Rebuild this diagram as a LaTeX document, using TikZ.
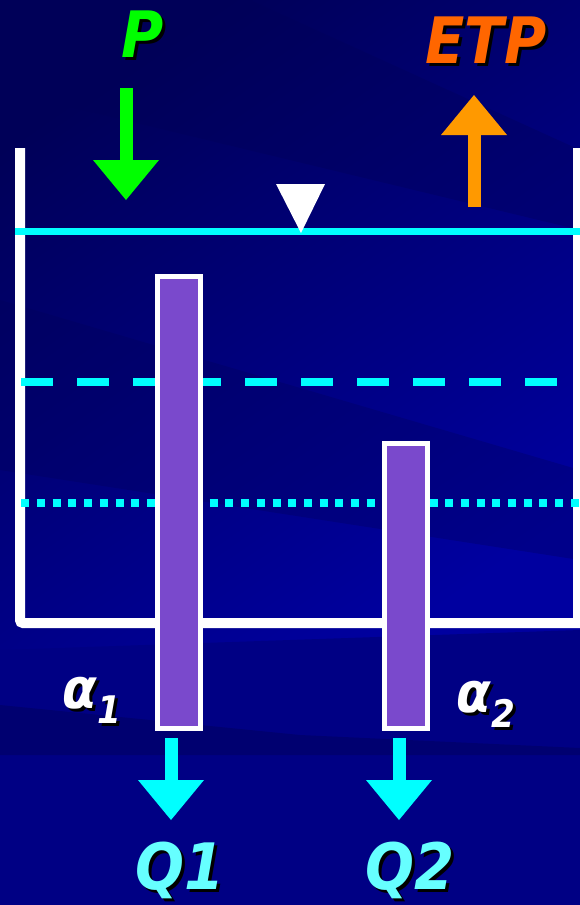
\documentclass[tikz,border=0pt]{standalone}
\usepackage{fontspec}
\setsansfont[FakeStretch=0.9]{DejaVu Sans}
\usetikzlibrary{positioning,arrows.meta}
\definecolor{tkNavy}{RGB}{0,0,132}
\definecolor{tkDeep}{RGB}{0,0,88}
\definecolor{tkBright}{RGB}{0,0,160}
\definecolor{tkCyan}{RGB}{0,255,255}
\definecolor{tkGreen}{RGB}{0,255,0}
\definecolor{tkOrange}{RGB}{255,153,0}
\definecolor{tkRed}{RGB}{255,102,0}
\definecolor{tkQ}{RGB}{102,255,255}
\definecolor{tkPurple}{RGB}{122,73,204}
\newcommand\castshadow[2]{\rlap{\kern3pt\raisebox{-3pt}{\color{black}#2}}{\color{#1}#2}}
\tikzset{
  bigtext/.style={anchor=base, inner sep=0pt, font=\fontsize{64}{64}\selectfont\sffamily\bfseries\itshape},
  greektext/.style={anchor=base, inner sep=0pt, font=\fontsize{56}{56}\selectfont\sffamily\bfseries\itshape},
  wall/.style={white, line width=10pt, rounded corners=3pt},
  bar/.style={draw=white, line width=5pt, fill=tkPurple, minimum width=43pt, inner sep=0pt},
  blockarrow/.style={line width=13pt, -{Triangle[width=66pt,length=40pt,line width=0pt]}},
  level/.style={tkCyan, line width=8pt}
}

\begin{document}
\begin{tikzpicture}[x=1pt, y=-1pt]
  \useasboundingbox (0,0) rectangle (580,905);

  % Background
  \shade[top color=tkDeep, bottom color=tkBright, shading angle=35] (0,0) rectangle (580,660);
  \fill[tkNavy] (0,650) -- (580,630) -- (580,905) -- (0,905) -- cycle;
  \fill[tkDeep, opacity=.45] (0,705) -- (300,735) -- (580,748) -- (580,755) -- (300,755) -- (0,755) -- cycle;
  \fill[tkDeep, opacity=.35] (0,0) -- (250,0) -- (580,150) -- (580,230) -- (0,90) -- cycle;
  \fill[tkDeep, opacity=.3] (0,300) -- (580,470) -- (580,560) -- (0,470) -- cycle;

  % Tank
  \draw[wall] (20,148) -- (20,623) -- (580,623);
  \draw[wall] (578,148) -- (578,623);

  % Levels
  \draw[level, dash pattern=on 32pt off 24pt] (21,382) -- (557,382);
  \draw[level, dash pattern=on 8pt off 7.7pt] (21.3,503) -- (580,503);
  \draw[tkCyan, line width=7pt] (15,231) -- (580,231);
  \fill[white] (276,184) -- (325,184) -- (301,233) -- cycle;

  % Outlets
  \node[bar, minimum height=452pt] (bar1) at (179,502.5) {};
  \node[bar, minimum height=285pt] (bar2) at (405.5,586) {};

  % Labels
  \node[bigtext] (lblP) at (143,57) {\castshadow{tkGreen}{P}};
  \node[bigtext] (lblETP) at (486,63) {\castshadow{tkRed}{ETP}};
  \node[bigtext] (lblQ1) at (180,889) {\castshadow{tkQ}{Q1}};
  \node[bigtext] (lblQ2) at (410,889) {\castshadow{tkQ}{Q2}};
  \node[greektext] (lblA1) at (92,708) {\castshadow{white}{α\raisebox{-15pt}{\fontsize{38}{38}\selectfont 1}}};
  \node[greektext] (lblA2) at (486,712) {\castshadow{white}{α\raisebox{-15pt}{\fontsize{38}{38}\selectfont 2}}};

  % Fluxes
  \coordinate (rainTop) at (126,88);
  \coordinate (rainTip) at (126,200);
  \coordinate (etpFoot) at (474,207);
  \coordinate (etpTip) at (474,95);
  \coordinate (q1Tip) at (171,820);
  \coordinate (q2Tip) at (399,820);
  \draw[blockarrow, tkGreen] (rainTop) -- (rainTip);
  \draw[blockarrow, tkOrange] (etpFoot) -- (etpTip);
  \draw[blockarrow, tkCyan] ([xshift=-8pt, yshift=-7pt]bar1.south) -- (q1Tip);
  \draw[blockarrow, tkCyan] ([xshift=-6.5pt, yshift=-7pt]bar2.south) -- (q2Tip);
\end{tikzpicture}
\end{document}
